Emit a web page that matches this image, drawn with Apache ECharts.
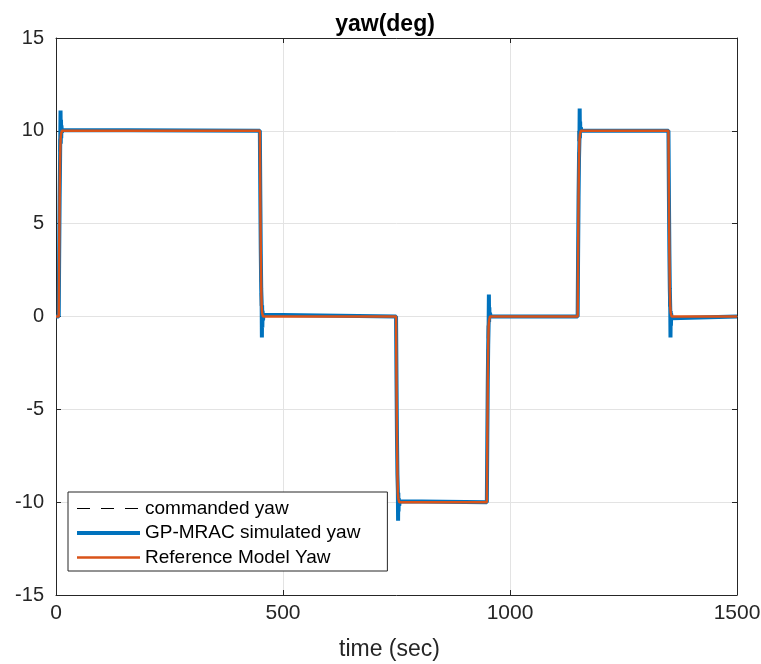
<!DOCTYPE html>
<html>
<head>
<meta charset="utf-8">
<script src="https://cdn.jsdelivr.net/npm/echarts@6/dist/echarts.min.js"></script>
<style>
  html, body { margin: 0; padding: 0; background: #fff; }
  #chart { width: 761px; height: 664px; }
</style>
</head>
<body>
<div id="chart"></div>
<script>
// Commanded yaw: piecewise-constant steps (time in s, yaw in deg)
const cmdTime = [0, 7, 7, 450, 450, 750, 750, 950, 950, 1150, 1150, 1350, 1350, 1500];
const cmdYaw  = [0, 0, 10, 10, 0, 0, -10, -10, 0, 0, 10, 10, 0, 0];

// Reference model yaw response
const refTime = [0, 6, 7, 8, 9, 10, 11, 13,
                 449, 450, 451, 452, 453, 454, 456,
                 749, 750, 751, 752, 753, 754, 756,
                 949, 950, 951, 952, 953, 954, 956,
                 1149, 1150, 1151, 1152, 1153, 1154, 1156,
                 1349, 1350, 1351, 1352, 1353, 1354, 1356, 1500];
const refYaw  = [0, 0, 3.5, 6.5, 8.5, 9.5, 9.8, 10,
                 10, 6.5, 3.5, 1.5, 0.5, 0.2, 0,
                 0, -3.5, -6.5, -8.5, -9.5, -9.8, -10,
                 -10, -6.5, -3.5, -1.5, -0.5, -0.2, 0,
                 0, 3.5, 6.5, 8.5, 9.5, 9.8, 10,
                 10, 6.5, 3.5, 1.5, 0.5, 0.2, 0, 0];

// GP-MRAC simulated yaw, with the short transients after each step
const simTime = [0, 6, 7, 8, 9, 10, 10.5, 11, 11.5, 12, 13, 14, 16,
                 449, 450, 451, 452, 453, 453.5, 454, 454.5, 455, 456, 457, 459,
                 749, 750, 751, 752, 753, 753.5, 754, 754.5, 755, 756, 757, 759,
                 949, 950, 951, 952, 953, 953.5, 954, 954.5, 955, 956, 957, 959,
                 1149, 1150, 1151, 1152, 1153, 1153.5, 1154, 1154.5, 1155, 1156, 1157, 1159,
                 1349, 1350, 1351, 1352, 1353, 1353.5, 1354, 1354.5, 1355, 1356, 1357, 1359, 1500];
const simYaw  = [0, 0, 3.4, 6.4, 8.5, 11.1, 9.3, 10.6, 9.6, 10.3, 9.9, 10.05, 10,
                 10, 6.6, 3.6, 1.5, 0.75, -1.13, 0.6, -0.6, 0.3, -0.2, 0.1, 0,
                 0, -3.4, -6.4, -8.5, -9.4, -11.0, -9.5, -10.5, -9.8, -10.2, -9.95, -10,
                 -10, -6.6, -3.6, -1.5, -0.3, 1.18, -0.3, 0.5, -0.1, 0.2, 0, 0,
                 0, 3.4, 6.4, 8.5, 9.6, 11.2, 9.6, 10.5, 9.9, 10.2, 10, 10,
                 10, 6.6, 3.6, 1.5, 0.38, -1.13, 0.3, -0.5, 0.15, -0.1, 0, 0, 0];

const xTicks = [0, 500, 1000, 1500];
const yTicks = [-15, -10, -5, 0, 5, 10, 15];

const seriesNames = ['commanded yaw', 'GP-MRAC simulated yaw', 'Reference Model Yaw'];

const pair = (t, v) => t.map((x, i) => [x, v[i]]);

const axisColor = '#262626';
const gridColor = '#e3e3e3';
const font = 'Liberation Sans, Arial, sans-serif';

const chart = echarts.init(document.getElementById('chart'), null, { renderer: 'canvas' });

const baseX = {
  type: 'value', min: xTicks[0], max: xTicks[xTicks.length - 1], interval: 500,
  axisLine: { show: true, onZero: false, lineStyle: { color: axisColor, width: 1 } },
  axisTick: { show: true, inside: true, length: 5, lineStyle: { color: axisColor } }
};
const baseY = {
  type: 'value', min: yTicks[0], max: yTicks[yTicks.length - 1], interval: 5,
  axisLine: { show: true, onZero: false, lineStyle: { color: axisColor, width: 1 } },
  axisTick: { show: true, inside: true, length: 5, lineStyle: { color: axisColor } }
};

chart.setOption({
  animation: false,
  backgroundColor: '#ffffff',
  title: {
    text: 'yaw(deg)',
    left: 380, top: 8, textAlign: 'center',
    textStyle: { fontFamily: font, fontWeight: 'bold', fontSize: 23, color: '#000' }
  },
  grid: { left: 56, right: 24, top: 38, bottom: 69, containLabel: false, outerBoundsMode: 'none' },
  legend: {
    orient: 'vertical',
    left: 68, top: 492,
    data: seriesNames,
    itemWidth: 63, itemHeight: 14, itemGap: 2.5,
    padding: [5.5, 27, 2.5, 7],
    backgroundColor: '#ffffff',
    borderColor: axisColor, borderWidth: 1, borderRadius: 0,
    itemStyle: { opacity: 0 },
    lineStyle: { width: 'inherit', type: 'inherit' },
    textStyle: { fontFamily: font, fontSize: 19, color: '#000', lineHeight: 22 }
  },
  xAxis: [
    Object.assign({}, baseX, {
      position: 'bottom',
      name: 'time (sec)', nameLocation: 'middle', nameGap: 43,
      nameTextStyle: { fontFamily: font, fontSize: 23, color: axisColor, padding: [0, 14, 0, 0] },
      axisLabel: { margin: 8, fontFamily: font, fontSize: 21, color: axisColor,
                   formatter: v => String(v) },
      splitLine: { show: true, lineStyle: { color: gridColor, width: 1 } }
    }),
    Object.assign({}, baseX, {
      position: 'top',
      axisLabel: { show: false },
      splitLine: { show: false }
    })
  ],
  yAxis: [
    Object.assign({}, baseY, {
      position: 'left',
      axisLabel: { margin: 12, fontFamily: font, fontSize: 20, color: axisColor,
                   formatter: v => String(v) },
      splitLine: { show: true, lineStyle: { color: gridColor, width: 1 } }
    }),
    Object.assign({}, baseY, {
      position: 'right',
      axisLabel: { show: false },
      splitLine: { show: false }
    })
  ],
  series: [
    {
      name: seriesNames[0], type: 'line', data: pair(cmdTime, cmdYaw),
      showSymbol: false, symbol: 'none', z: 2,
      lineStyle: { color: '#000000', width: 1, type: [13, 11] },
      itemStyle: { color: '#000000' }
    },
    {
      name: seriesNames[1], type: 'line', data: pair(simTime, simYaw),
      showSymbol: false, symbol: 'none', z: 3,
      lineStyle: { color: '#0072BD', width: 4 },
      itemStyle: { color: '#0072BD' }
    },
    {
      name: seriesNames[2], type: 'line', data: pair(refTime, refYaw),
      showSymbol: false, symbol: 'none', z: 4,
      lineStyle: { color: '#D95319', width: 2.5 },
      itemStyle: { color: '#D95319' }
    }
  ]
});
</script>
</body>
</html>
